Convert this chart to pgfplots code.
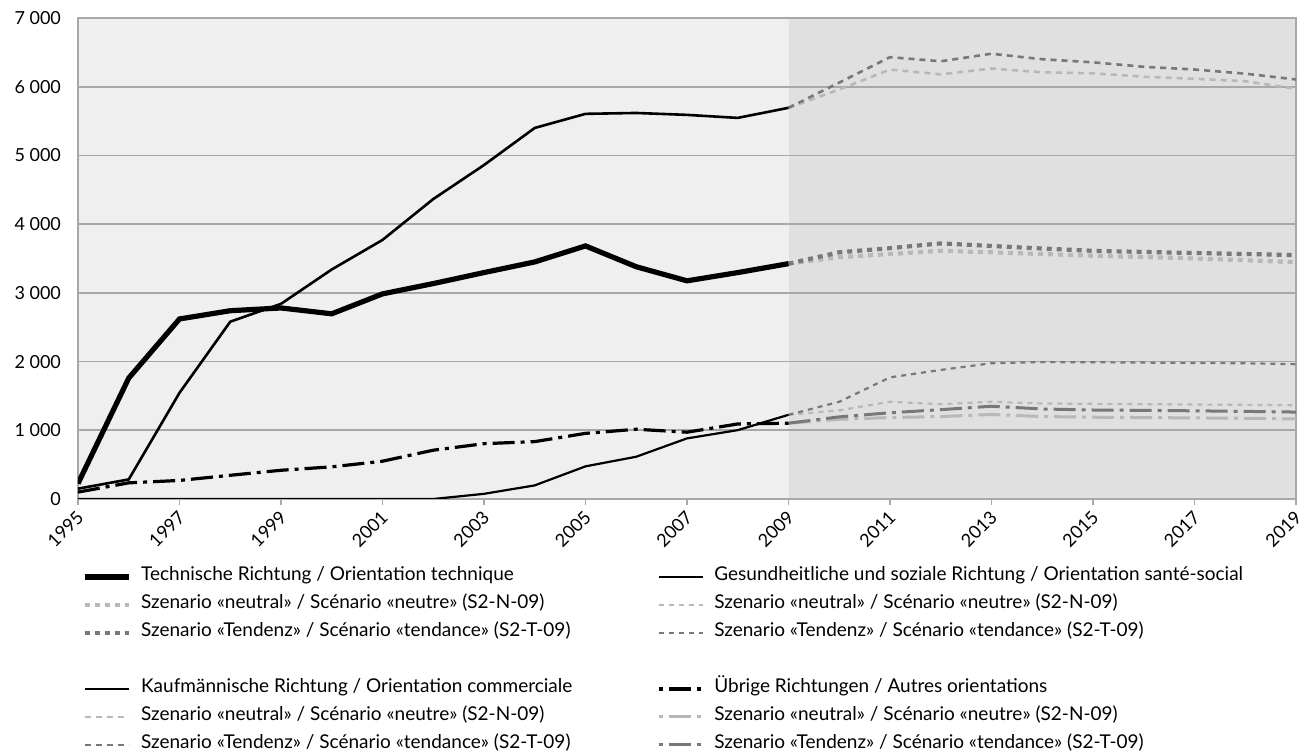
\documentclass[border=0pt]{standalone}
\usepackage{fontspec}
\setmainfont{Lato}
\usepackage{pgfplots}
\pgfplotsset{compat=1.18}
\usepackage{pgfplotstable}
\definecolor{bgL}{HTML}{EFEFEF}
\definecolor{bgR}{HTML}{E0E0E0}
\definecolor{gridc}{HTML}{A8A8A8}
\definecolor{neu}{HTML}{B8B8B8}
\definecolor{ten}{HTML}{787878}

\pgfplotstableread{
year tech kauf ges ueb
1995 225 150 0 100
1996 1760 285 0 235
1997 2620 1545 0 270
1998 2740 2580 0 345
1999 2780 2840 0 418
2000 2695 3340 0 468
2001 2985 3770 0 550
2002 3135 4365 0 710
2003 3295 4860 75 805
2004 3450 5400 198 835
2005 3683 5605 475 955
2006 3380 5618 615 1015
2007 3175 5590 882 972
2008 3295 5546 1002 1092
2009 3425 5693 1225 1103
}\hist

\pgfplotstableread{
year techn techt kaufn kauft gesn gest uebn uebt
2009 3425 3425 5693 5693 1225 1225 1103 1103
2010 3520 3590 5960 6060 1290 1415 1160 1195
2011 3565 3650 6250 6430 1415 1770 1185 1255
2012 3612 3720 6180 6370 1380 1878 1200 1300
2013 3590 3682 6265 6480 1415 1976 1230 1350
2014 3565 3645 6210 6400 1390 1992 1200 1310
2015 3540 3612 6195 6355 1385 1990 1190 1295
2016 3522 3595 6145 6290 1380 1985 1185 1290
2017 3500 3580 6115 6250 1375 1980 1180 1283
2018 3475 3565 6080 6190 1370 1975 1175 1275
2019 3445 3550 5970 6105 1365 1962 1165 1265
}\scen

\begin{document}
\begin{tikzpicture}
\begin{axis}[
  set layers=standard,
  at={(0,0)}, anchor=south west,
  scale only axis,
  width=609pt, height=240.5pt,
  xmin=1995, xmax=2019, ymin=0, ymax=7000,
  axis background/.style={fill=bgL},
  axis line style={gridc, line width=0.9pt},
  ymajorgrids, grid style={gridc, line width=0.8pt},
  xtick={1995,1997,...,2019},
  xticklabels={1995,1997,1999,2001,2003,2005,2007,2009,2011,2013,2015,2017,2019},
  ytick={0,1000,...,7000},
  yticklabels={0,1 000,2 000,3 000,4 000,5 000,6 000,7 000},
  xtick pos=bottom, ytick pos=left,
  tick align=outside,
  major tick length=3pt,
  xtick style={gridc, line width=0.8pt},
  ytick style={draw=none},
  x tick label style={rotate=45, anchor=east, font=\fontsize{9pt}{10pt}\selectfont, yshift=-4pt, xshift=1pt},
  y tick label style={font=\fontsize{9pt}{10pt}\selectfont, xshift=-2pt},
  legend columns=2,
  legend cell align=left,
  legend image code/.code={\draw[#1] (0pt,0pt) -- (22pt,0pt);},
  legend style={at={(0,0)}, anchor=north west, xshift=2pt, yshift=-32pt,
    draw=none, fill=none, inner sep=0pt, outer sep=0pt, row sep=0pt,
    font=\fontsize{9.5pt}{10pt}\selectfont,
    nodes={inner sep=0pt, outer sep=0pt, text height=9pt, text depth=5pt},
    /tikz/every odd column/.append style={column sep=5pt}},
]
% shaded forecast area
\addplot[fill=bgR, draw=none, forget plot, on layer=axis background]
  coordinates {(2009,7000) (2019,7000)} \closedcycle;

% scenarios
\addplot[forget plot, neu, line width=2.1pt, dash pattern=on 2.5pt off 2.5pt] table[x=year,y=techn]{\scen};
\addplot[forget plot, ten, line width=2.1pt, dash pattern=on 2.5pt off 2.5pt] table[x=year,y=techt]{\scen};
\addplot[forget plot, neu, line width=1.3pt, dash pattern=on 3pt off 2.5pt] table[x=year,y=kaufn]{\scen};
\addplot[forget plot, ten, line width=1.3pt, dash pattern=on 3pt off 2.5pt] table[x=year,y=kauft]{\scen};
\addplot[forget plot, neu, line width=1.1pt, dash pattern=on 2.5pt off 2.5pt] table[x=year,y=gesn]{\scen};
\addplot[forget plot, ten, line width=1.1pt, dash pattern=on 2.5pt off 2.5pt] table[x=year,y=gest]{\scen};
\addplot[forget plot, neu, line width=1.5pt, dash pattern=on 11pt off 3pt on 2pt off 3pt] table[x=year,y=uebn]{\scen};
\addplot[forget plot, ten, line width=1.5pt, dash pattern=on 11pt off 3pt on 2pt off 3pt] table[x=year,y=uebt]{\scen};

% history
\addplot[forget plot, black, line width=1.6pt, dash pattern=on 11pt off 3pt on 2pt off 3pt] table[x=year,y=ueb]{\hist};
\addplot[forget plot, black, line width=1.1pt] table[x=year,y=ges]{\hist};
\addplot[forget plot, black, line width=1.3pt] table[x=year,y=kauf]{\hist};
\addplot[forget plot, black, line width=2.6pt] table[x=year,y=tech]{\hist};

% legend
\addlegendimage{black, line width=2.6pt}
\addlegendentry{\makebox[258pt][l]{Technische Richtung / Orientation technique}}
\addlegendimage{black, line width=1.1pt}
\addlegendentry{Gesundheitliche und soziale Richtung / Orientation santé-social}
\addlegendimage{neu, line width=2.1pt, dash pattern=on 2.5pt off 2.5pt}
\addlegendentry{\makebox[258pt][l]{Szenario «neutral» / Scénario «neutre» (S2-N-09)}}
\addlegendimage{neu, line width=1.1pt, dash pattern=on 2.5pt off 2.5pt}
\addlegendentry{Szenario «neutral» / Scénario «neutre» (S2-N-09)}
\addlegendimage{ten, line width=2.1pt, dash pattern=on 2.5pt off 2.5pt}
\addlegendentry{\makebox[258pt][l]{Szenario «Tendenz» / Scénario «tendance» (S2-T-09)}}
\addlegendimage{ten, line width=1.1pt, dash pattern=on 2.5pt off 2.5pt}
\addlegendentry{Szenario «Tendenz» / Scénario «tendance» (S2-T-09)}
\addlegendimage{opacity=0}
\addlegendentry{\strut}
\addlegendimage{opacity=0}
\addlegendentry{\strut}
\addlegendimage{black, line width=1.3pt}
\addlegendentry{\makebox[258pt][l]{Kaufmännische Richtung / Orientation commerciale}}
\addlegendimage{black, line width=1.6pt, dash pattern=on 11pt off 3pt on 2pt off 3pt, dash phase=14pt}
\addlegendentry{Übrige Richtungen / Autres orientations}
\addlegendimage{neu, line width=1.3pt, dash pattern=on 3pt off 2.5pt}
\addlegendentry{\makebox[258pt][l]{Szenario «neutral» / Scénario «neutre» (S2-N-09)}}
\addlegendimage{neu, line width=1.5pt, dash pattern=on 11pt off 3pt on 2pt off 3pt, dash phase=14pt}
\addlegendentry{Szenario «neutral» / Scénario «neutre» (S2-N-09)}
\addlegendimage{ten, line width=1.3pt, dash pattern=on 3pt off 2.5pt}
\addlegendentry{\makebox[258pt][l]{Szenario «Tendenz» / Scénario «tendance» (S2-T-09)}}
\addlegendimage{ten, line width=1.5pt, dash pattern=on 11pt off 3pt on 2pt off 3pt, dash phase=14pt}
\addlegendentry{Szenario «Tendenz» / Scénario «tendance» (S2-T-09)}
\end{axis}
\pgfresetboundingbox
\useasboundingbox (-39pt,-127pt) rectangle (617.5pt,249.5pt);
\end{tikzpicture}
\end{document}
